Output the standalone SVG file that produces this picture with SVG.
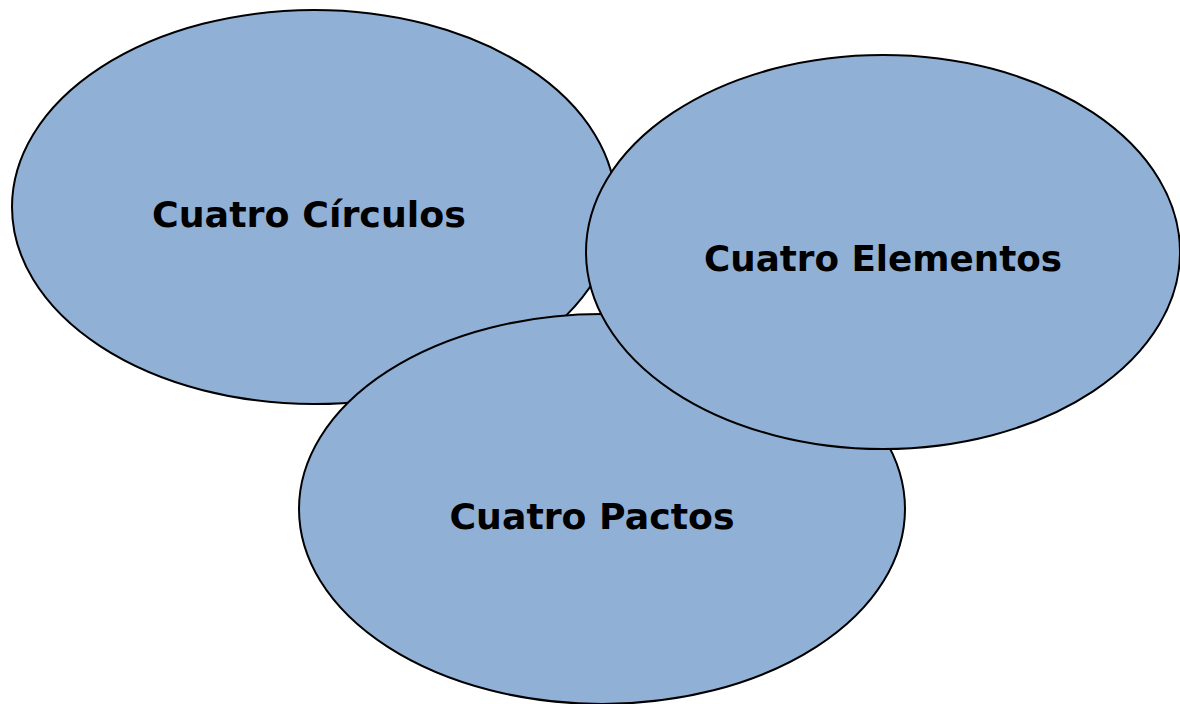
<svg xmlns="http://www.w3.org/2000/svg" width="1180" height="704" viewBox="0 0 1180 704">
<style>
.e{fill:#91B0D6;stroke:#000;stroke-width:2}
.t{font-family:"Comic Sans MS","DejaVu Sans",sans-serif;font-weight:bold;font-size:36px;fill:#000;text-anchor:middle}
</style>
<rect width="1180" height="704" fill="#fff"/>
<g id="circulos">
<ellipse class="e" cx="314" cy="207" rx="302" ry="197"/>
<text class="t" x="309" y="227" textLength="314" lengthAdjust="spacingAndGlyphs">Cuatro Círculos</text>
</g>
<g id="pactos">
<ellipse class="e" cx="602" cy="509" rx="303" ry="195"/>
<text class="t" x="592" y="529" textLength="285" lengthAdjust="spacingAndGlyphs">Cuatro Pactos</text>
</g>
<g id="elementos">
<ellipse class="e" cx="883" cy="252" rx="297" ry="197"/>
<text class="t" x="883" y="271" textLength="358" lengthAdjust="spacingAndGlyphs">Cuatro Elementos</text>
</g>
<g id="connectors"/>
</svg>
